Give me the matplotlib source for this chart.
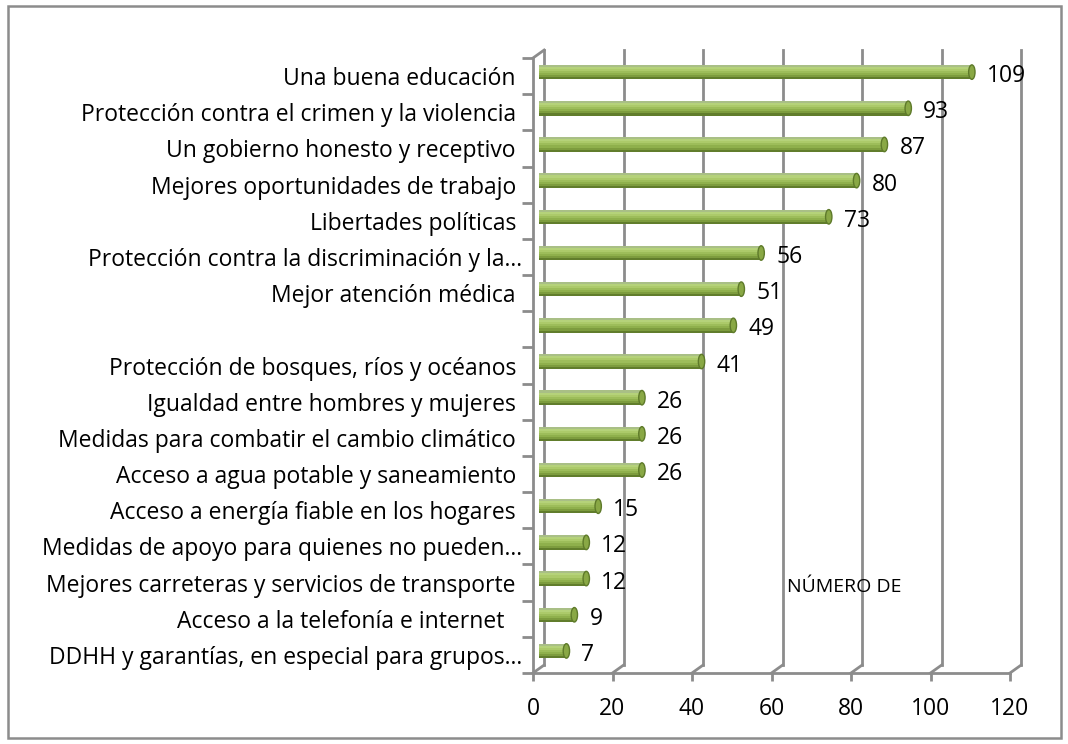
import matplotlib.pyplot as plt
from matplotlib.patches import Ellipse, Rectangle

categorias = [
    "Una buena educación ",
    "Protección contra el crimen y la violencia ",
    "Un gobierno honesto y receptivo ",
    "Mejores oportunidades de trabajo ",
    "Libertades políticas ",
    "Protección contra la discriminación y la…",
    "Mejor atención médica ",
    "",
    "Protección de bosques, ríos y océanos ",
    "Igualdad entre hombres y mujeres ",
    "Medidas para combatir el cambio climático ",
    "Acceso a agua potable y saneamiento ",
    "Acceso a energía fiable en los hogares ",
    "Medidas de apoyo para quienes no pueden…",
    "Mejores carreteras y servicios de transporte ",
    "Acceso a la telefonía e internet   ",
    "DDHH y garantías, en especial para grupos…",
]
valores = [109, 93, 87, 80, 73, 56, 51, 49, 41, 26, 26, 26, 15, 12, 12, 9, 7]
xticks = [0, 20, 40, 60, 80, 100, 120]

plt.rcParams['font.family'] = ['Open Sans', 'DejaVu Sans']
gris = '#8c8c8c'

fig = plt.figure(figsize=(10.68, 7.44), dpi=100)
fig.add_artist(Rectangle((8 / 1068, 1 - 738 / 744), 1053 / 1068, 732 / 744,
                         transform=fig.transFigure, fill=False,
                         edgecolor=gris, lw=1.8))

ax = fig.add_axes([533 / 1068, 1 - 673 / 744, 477 / 1068, 615 / 744])
n = len(categorias)
ax.set_xlim(0, 120)
ax.set_ylim(n - 0.5, -0.5)

# profundidad 3D (en unidades de datos)
DX = 2.8
DY = -0.22

# pared del fondo y suelo
for xv in xticks:
    ax.plot([xv + DX, xv + DX], [n - 0.5 + DY, -0.5 + DY], color=gris, lw=2, clip_on=False)
    ax.plot([xv, xv + DX], [n - 0.5, n - 0.5 + DY], color=gris, lw=2, clip_on=False)
ax.plot([0, DX], [-0.5, -0.5 + DY], color=gris, lw=2, clip_on=False)

# barras cilíndricas
y = list(range(n))
h = 0.40
tonos = ['#a9bf86', '#b5d27a', '#acca6a', '#9dbd5a', '#8fb04c', '#7d9c3e', '#617d2c']
k_n = len(tonos)
for k, c in enumerate(tonos):
    ax.barh([yi + DY / 2 - h / 2 + (k + 0.5) * h / k_n for yi in y], valores,
            height=h / k_n, left=DX / 2, color=c, lw=0, zorder=3)
for yi, v in zip(y, valores):
    ax.add_patch(Ellipse((v + DX / 2, yi + DY / 2), 1.6, h, facecolor='#89a845',
                         edgecolor='#5e7a2a', lw=1, zorder=4))
    ax.text(v + DX / 2 + 3.8, yi, str(v), ha='left', va='center', fontsize=16.5, zorder=5)

for s in ['top', 'right']:
    ax.spines[s].set_visible(False)
for s in ['left', 'bottom']:
    ax.spines[s].set_color(gris)
    ax.spines[s].set_linewidth(2)

ax.set_xticks(xticks)
ax.set_xticklabels([str(t) for t in xticks], fontsize=16.5)
ax.tick_params(axis='x', length=6, width=2, color=gris, pad=11)
ax.set_yticks(y)
ax.set_yticklabels(categorias, fontsize=16.5)
ax.tick_params(axis='y', which='major', length=0, pad=8)
ax.set_yticks([i - 0.5 for i in range(n + 1)], minor=True)
ax.tick_params(axis='y', which='minor', length=8, width=2, color=gris)

fig.text(787 / 1068, 1 - 587 / 744, "NÚMERO DE", ha='left', va='center', fontsize=14)

fig.savefig("out.png", dpi=100)
